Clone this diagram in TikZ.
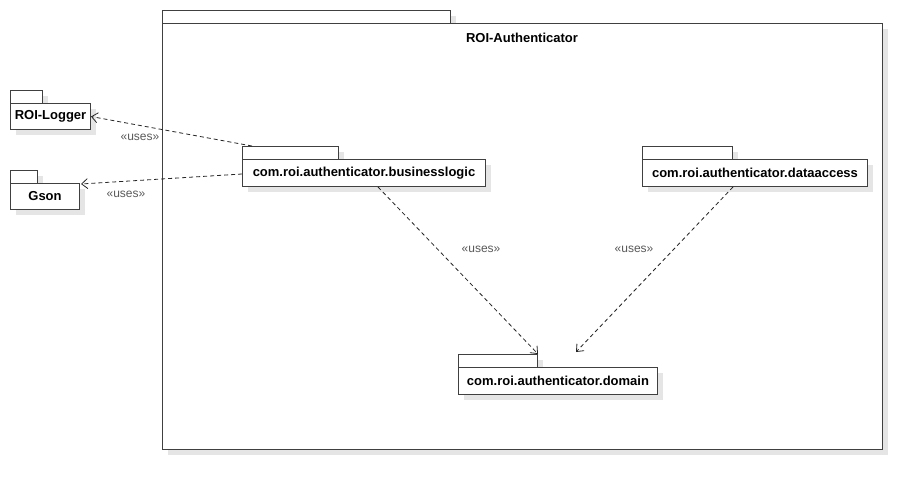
\documentclass[tikz,border=0pt]{standalone}
\usepackage{fontspec}
\setmainfont{Liberation Sans}
\usetikzlibrary{arrows.meta,calc,shadows}

\tikzset{
  pkgshadow/.style={drop shadow={shadow xshift=5pt, shadow yshift=-5pt, fill=black!10, opacity=1}},
  pkgtab/.style={draw=black!75, line width=1pt, fill=white, anchor=north west, inner sep=0pt, minimum height=13pt, pkgshadow},
  pkgbody/.style={draw=black!75, line width=1pt, fill=white, anchor=north west, inner sep=0pt, minimum height=26pt, font=\bfseries\fontsize{13}{15}\selectfont, pkgshadow},
  uses/.style={draw=black!85, line width=0.8pt, dash pattern=on 4pt off 3pt, -{Straight Barb[length=6pt, width=10pt]}},
  usestext/.style={text=black!65, font=\fontsize{12}{14}\selectfont}
}

\begin{document}
\begin{tikzpicture}[x=1pt, y=-1pt]
    \useasboundingbox (0,0) rectangle (922,490);

    % outer package
    \node[pkgtab, minimum width=288pt] (authtab) at (162,10) {};
    \node[pkgbody, minimum width=720pt, minimum height=426pt] (auth) at (162,23) {};
    \node[font=\bfseries\fontsize{13}{15}\selectfont] (authname) at (522,38) {ROI-Authenticator};

    % external packages
    \node[pkgtab, minimum width=32pt] (loggertab) at (10,90) {};
    \node[pkgbody, minimum width=80pt] (logger) at (10,103) {ROI-Logger};
    \node[pkgtab, minimum width=27pt] (gsontab) at (10,170) {};
    \node[pkgbody, minimum width=69pt] (gson) at (10,183) {Gson};

    % inner packages
    \node[pkgtab, minimum width=96pt] (bltab) at (242,146) {};
    \node[pkgbody, minimum width=243pt, minimum height=27pt] (bl) at (242,159) {com.roi.authenticator.businesslogic};
    \node[pkgtab, minimum width=90pt] (datab) at (642,146) {};
    \node[pkgbody, minimum width=225pt, minimum height=27pt] (da) at (642,159) {com.roi.authenticator.dataaccess};
    \node[pkgtab, minimum width=79pt] (domtab) at (458,354) {};
    \node[pkgbody, minimum width=199pt, minimum height=27pt] (dom) at (458,367) {com.roi.authenticator.domain};

    % dependencies
    \draw[uses] ($(bltab.north west)+(10,0)$) -- (logger.east);
    \draw[uses] ($(bl.west)+(0,1)$) -- ($(gson.north east)+(1,1)$);
    \draw[uses] ($(bl.south west)+(136,0)$) -- (domtab.north east);
    \draw[uses] ($(da.south west)+(91,0)$) -- ($(domtab.north east)+(38,-2)$);

    \node[usestext] (uses1) at (140,137) {«uses»};
    \node[usestext] (uses2) at (126,194) {«uses»};
    \node[usestext] (uses3) at (481,249) {«uses»};
    \node[usestext] (uses4) at (634,249) {«uses»};
\end{tikzpicture}
\end{document}
